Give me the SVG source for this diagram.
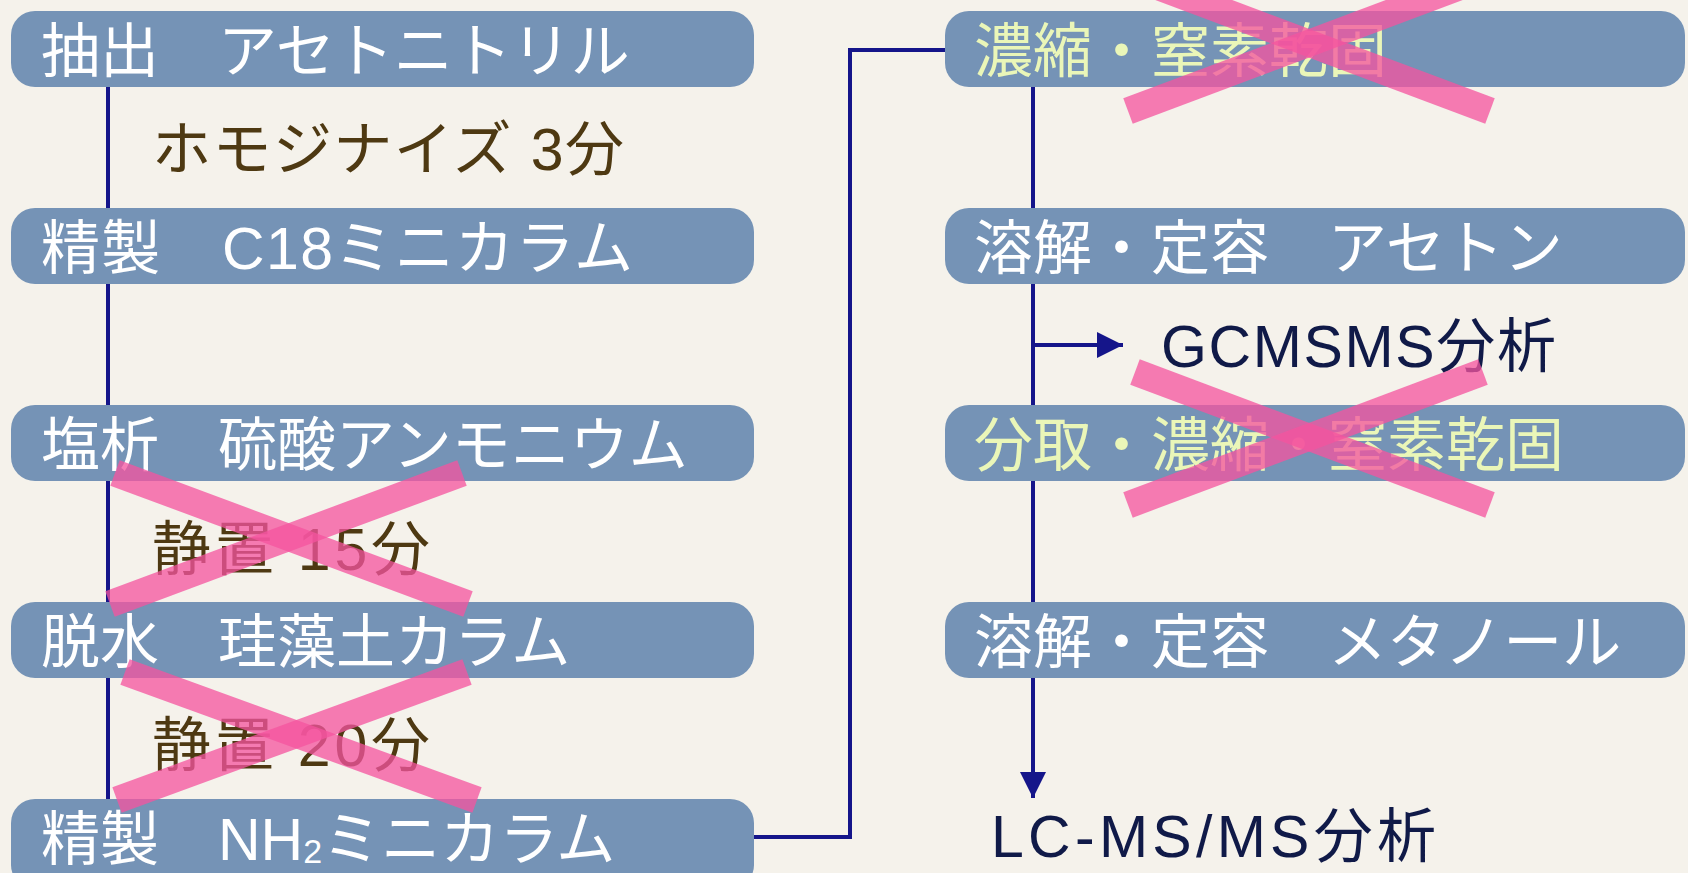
<svg xmlns="http://www.w3.org/2000/svg" width="1688" height="873" viewBox="0 0 1688 873">
<style>
.bg{fill:#f5f2eb}
.box{fill:#7593b6}
.t{font-family:"Liberation Sans","Noto Sans CJK JP",sans-serif;font-size:59px}
.w{fill:#ffffff}
.y{fill:#eaf6b8}
.br{fill:#4e3912}
.nv{fill:#101a48}
.ln{stroke:#15158a;stroke-width:4;fill:none}
.x{stroke:#f5549f;stroke-width:27;stroke-opacity:0.76;fill:none}
</style>
<defs>
<marker id="ah" viewBox="0 0 10 10" refX="10" refY="5" markerWidth="6.5" markerHeight="6.5" markerUnits="strokeWidth" orient="auto">
<path d="M0,0 L10,5 L0,10 z" fill="#15158a"/>
</marker>
</defs>
<rect class="bg" x="0" y="0" width="1688" height="873"/>
<g id="connectors">
<line class="ln" x1="108" y1="86" x2="108" y2="800"/>
<polyline class="ln" points="754,837 850,837 850,50 946,50"/>
<line class="ln" x1="1033" y1="86" x2="1033" y2="798" marker-end="url(#ah)"/>
<line class="ln" x1="1033" y1="345" x2="1123" y2="345" marker-end="url(#ah)"/>
</g>
<g id="n1"><rect class="box" x="11" y="11" width="743" height="76" rx="24"/><text class="t w" x="41" y="72">抽出　アセトニトリル</text></g>
<g id="n2"><text class="t br" x="152" y="170" textLength="472" lengthAdjust="spacing">ホモジナイズ 3分</text></g>
<g id="n3"><rect class="box" x="11" y="208" width="743" height="76" rx="24"/><text class="t w" x="41" y="269" textLength="592" lengthAdjust="spacing">精製　C18ミニカラム</text></g>
<g id="n4"><rect class="box" x="11" y="405" width="743" height="76" rx="24"/><text class="t w" x="41" y="466">塩析　硫酸アンモニウム</text></g>
<g id="n5"><text class="t br" x="152" y="570" textLength="278" lengthAdjust="spacing">静置 15分</text></g>
<g id="n6"><rect class="box" x="11" y="602" width="743" height="76" rx="24"/><text class="t w" x="41" y="663">脱水　珪藻土カラム</text></g>
<g id="n7"><text class="t br" x="152" y="766" textLength="278" lengthAdjust="spacing">静置 20分</text></g>
<g id="n8"><rect class="box" x="11" y="799" width="743" height="90" rx="24"/><text class="t w" x="41" y="860">精製　NH<tspan font-size="34" dy="3">2</tspan><tspan dy="-3">ミニカラム</tspan></text></g>
<g id="n9"><rect class="box" x="945" y="11" width="740" height="76" rx="24"/><text class="t y" x="974" y="72">濃縮・窒素乾固</text></g>
<g id="n10"><rect class="box" x="945" y="208" width="740" height="76" rx="24"/><text class="t w" x="974" y="269">溶解・定容　アセトン</text></g>
<g id="n11"><text class="t nv" x="1161" y="367" textLength="395" lengthAdjust="spacing">GCMSMS分析</text></g>
<g id="n12"><rect class="box" x="945" y="405" width="740" height="76" rx="24"/><text class="t y" x="974" y="466">分取・濃縮・窒素乾固</text></g>
<g id="n13"><rect class="box" x="945" y="602" width="740" height="76" rx="24"/><text class="t w" x="974" y="663">溶解・定容　メタノール</text></g>
<g id="n14"><text class="t nv" x="991" y="857" textLength="445" lengthAdjust="spacing">LC-MS/MS分析</text></g>
<g id="crosses">
<line class="x" x1="1135" y1="-22" x2="1490" y2="111"/>
<line class="x" x1="1483" y1="-22" x2="1128" y2="111"/>
<line class="x" x1="1135" y1="372" x2="1490" y2="505"/>
<line class="x" x1="1483" y1="372" x2="1128" y2="505"/>
<line class="x" x1="115" y1="473" x2="468" y2="604"/>
<line class="x" x1="462" y1="473" x2="110" y2="604"/>
<line class="x" x1="125" y1="672" x2="477" y2="800"/>
<line class="x" x1="467" y1="672" x2="117" y2="800"/>
</g>
</svg>
